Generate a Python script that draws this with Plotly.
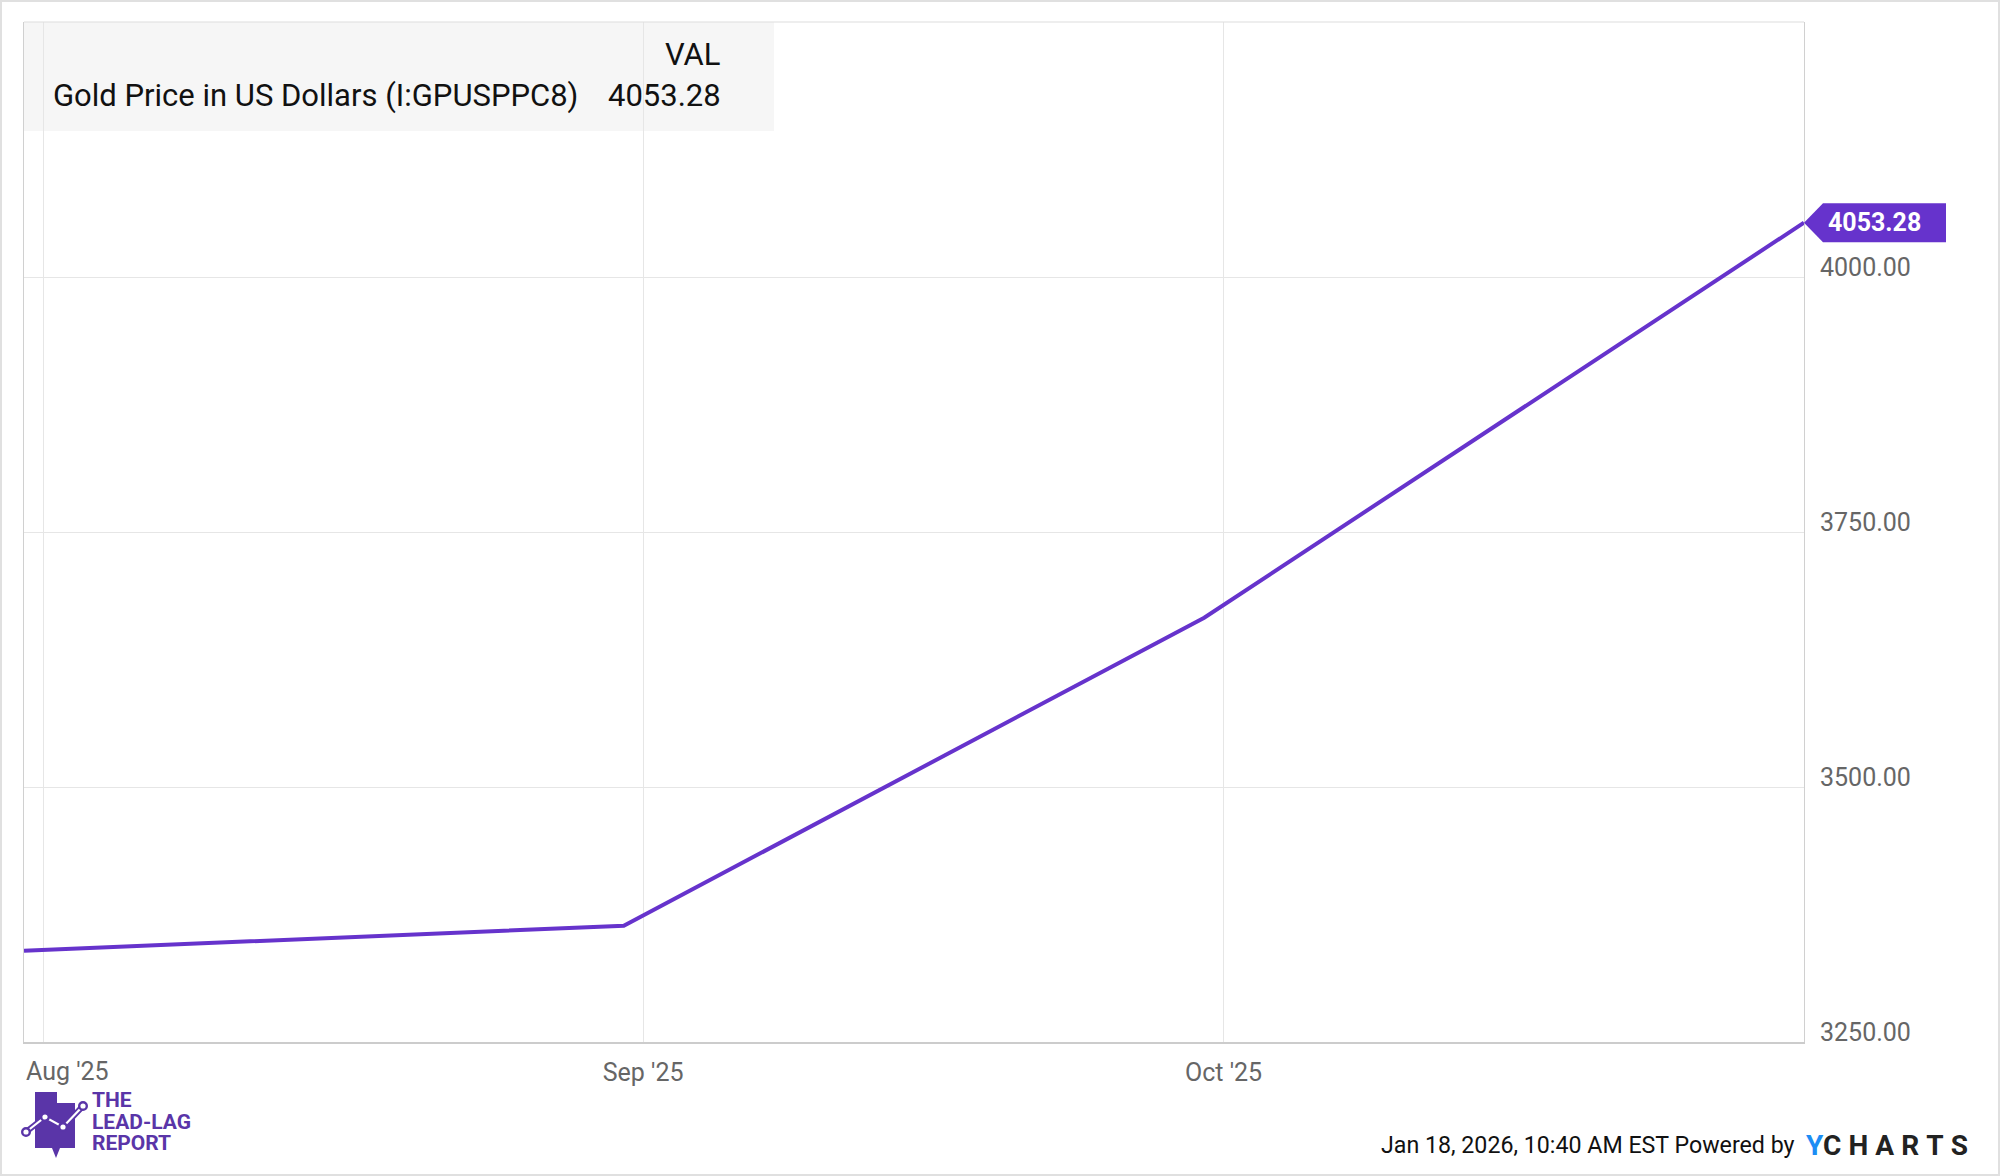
import plotly.graph_objects as go

# ---- data ----
dates = ["2025-07-31", "2025-08-31", "2025-09-30", "2025-10-31"]
values = [3339.5, 3364.0, 3666.0, 4053.28]
series_name = "Gold Price in US Dollars (I:GPUSPPC8)"
x_tick_vals = ["2025-08-01", "2025-09-01", "2025-10-01"]
x_tick_text = ["Aug '25", "Sep '25", "Oct '25"]
y_tick_vals = [3250, 3500, 3750, 4000]
y_range = [3250, 4250]
footer_text = "Jan 18, 2026, 10:40 AM EST Powered by"

PURPLE = "#6633CC"
LOGO = "#5A35A8"
FONT = "Roboto, 'Open Sans', sans-serif"
TICK_FONT = dict(family=FONT, size=25, color="#666666")

W, H = 2000, 1176
ML, MR, MT, MB = 24, 196, 22, 134
PW, PH = W - ML - MR, H - MT - MB


def px(X):
    return (X - ML) / PW


def py(Y):
    return (H - MB - Y) / PH


fig = go.Figure()
fig.add_trace(go.Scatter(
    x=dates, y=values, mode="lines",
    line=dict(color=PURPLE, width=4),
    name=series_name, showlegend=False, hoverinfo="skip",
))

shapes = []
# legend background box
shapes.append(dict(type="rect", xref="paper", yref="paper",
                   x0=0, x1=px(774), y0=py(131), y1=1,
                   fillcolor="#f6f6f6", line=dict(width=0), layer="below"))
# top border of plot
shapes.append(dict(type="line", xref="paper", yref="paper",
                   x0=0, x1=1, y0=1, y1=1,
                   line=dict(color="#dddddd", width=1)))
# outer page border
shapes.append(dict(type="rect", xref="paper", yref="paper",
                   x0=px(1), x1=px(1999), y0=py(1175), y1=py(1),
                   line=dict(color="#e0e0e0", width=2), fillcolor="rgba(0,0,0,0)"))
# end value tag (pentagon) anchored at last point
shapes.append(dict(type="path", xref="paper", yref="y",
                   xsizemode="pixel", ysizemode="pixel",
                   xanchor=1, yanchor=values[-1],
                   path="M0,0 L19,19.5 L142,19.5 L142,-19.5 L19,-19.5 Z",
                   fillcolor=PURPLE, line=dict(width=0)))


def ppath(points):
    s = "M" + " L".join(f"{px(x):.5f},{py(y):.5f}" for x, y in points)
    return s


# logo shape
logo_poly = [(35, 1092), (57, 1092), (57, 1103), (75, 1103), (75, 1148),
             (60, 1148), (56, 1158), (52, 1148), (35, 1148)]
shapes.append(dict(type="path", xref="paper", yref="paper",
                   path=ppath(logo_poly) + " Z", fillcolor=LOGO, line=dict(width=0)))
logo_line = [(26, 1132), (45, 1117), (63, 1127), (83, 1106)]
shapes.append(dict(type="path", xref="paper", yref="paper",
                   path=ppath(logo_line), line=dict(color=LOGO, width=6)))
shapes.append(dict(type="path", xref="paper", yref="paper",
                   path=ppath(logo_line), line=dict(color="white", width=2.2)))
for (cx, cy) in logo_line:
    r = 3.8
    shapes.append(dict(type="circle", xref="paper", yref="paper",
                       x0=px(cx - r), x1=px(cx + r), y0=py(cy + r), y1=py(cy - r),
                       fillcolor="white", line=dict(color=LOGO, width=2.4)))

annotations = []
leg_font = dict(family=FONT, size=31, color="#111111")
annotations.append(dict(xref="paper", yref="paper", x=px(723), y=py(54),
                        xanchor="right", yanchor="middle", text="VAL",
                        showarrow=False, font=leg_font))
annotations.append(dict(xref="paper", yref="paper", x=px(51), y=py(96),
                        xanchor="left", yanchor="middle", text=series_name,
                        showarrow=False, font=leg_font))
annotations.append(dict(xref="paper", yref="paper", x=px(723), y=py(96),
                        xanchor="right", yanchor="middle", text=f"{values[-1]:.2f}",
                        showarrow=False, font=leg_font))
# first x label, kept inside the plot's left edge as in the reference
annotations.append(dict(xref="x", yref="paper", x=dates[0], y=py(1071),
                        xanchor="left", yanchor="middle", text=x_tick_text[0],
                        showarrow=False, font=TICK_FONT))
# end value tag text
annotations.append(dict(xref="x", yref="y", x=dates[-1], y=values[-1],
                        xanchor="left", yanchor="middle", xshift=22,
                        text=f"<b>{values[-1]:.2f}</b>", showarrow=False,
                        font=dict(family=FONT, size=25, color="white")))
# footer
annotations.append(dict(xref="paper", yref="paper", x=px(1797), y=py(1145),
                        xanchor="right", yanchor="middle", text=footer_text,
                        showarrow=False, font=dict(family=FONT, size=23.2, color="#111111")))
sp = "\u2005"
annotations.append(dict(xref="paper", yref="paper", x=px(1804), y=py(1145),
                        xanchor="left", yanchor="middle",
                        text="<b><span style='color:#1C8DF4'>Y</span>" + sp.join("CHARTS") + "</b>",
                        showarrow=False, font=dict(family=FONT, size=28, color="#222222")))
# logo text
for txt, yy in [("THE", 1100), ("LEAD-LAG", 1122), ("REPORT", 1143)]:
    annotations.append(dict(xref="paper", yref="paper", x=px(90), y=py(yy),
                            xanchor="left", yanchor="middle", text=f"<b>{txt}</b>",
                            showarrow=False,
                            font=dict(family=FONT, size=21, color=LOGO)))

fig.update_layout(
    width=W, height=H,
    margin=dict(l=ML, r=MR, t=MT, b=MB, pad=0, autoexpand=False),
    paper_bgcolor="white", plot_bgcolor="white",
    font=dict(family=FONT, size=25, color="#666666"),
    shapes=shapes, annotations=annotations,
    showlegend=False,
)
fig.update_xaxes(
    type="date", range=[dates[0], dates[-1]],
    tickvals=x_tick_vals, ticktext=[""] + x_tick_text[1:],
    showgrid=True, gridcolor="#e6e6e6", gridwidth=1,
    showline=True, linecolor="#cccccc", linewidth=2,
    ticks="", ticklabelstandoff=7, automargin=False,
    tickfont=TICK_FONT,
    zeroline=False, fixedrange=True,
)
fig.update_yaxes(
    side="right", range=y_range, tickvals=y_tick_vals, tickformat=".2f",
    showgrid=True, gridcolor="#e6e6e6", gridwidth=1,
    showline=True, linecolor="#d0d0d0", linewidth=1, mirror=True,
    ticks="", ticklabelstandoff=10, ticklabelshift=-10, automargin=False,
    tickfont=TICK_FONT,
    zeroline=False, fixedrange=True,
)

fig.write_html("out.html", config={"displayModeBar": False},
               post_script="document.body.style.margin='0';document.body.style.overflow='hidden';")
